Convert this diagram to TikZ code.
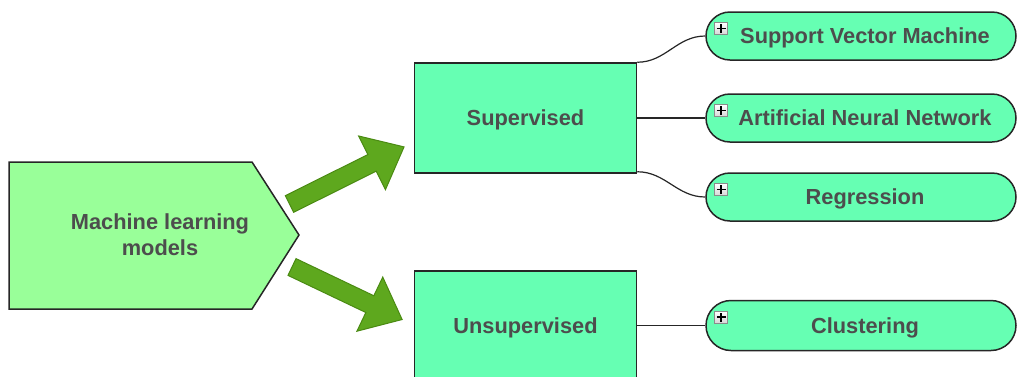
\documentclass[tikz,border=0pt]{standalone}
\usepackage{fontspec}
\setmainfont{Liberation Sans}
\usetikzlibrary{shapes.arrows,shapes.misc}
\definecolor{rootfill}{HTML}{99FF99}
\definecolor{boxfill}{HTML}{66FFB3}
\definecolor{arrowfill}{HTML}{5EA81E}
\definecolor{arrowedge}{HTML}{4A8A12}
\definecolor{labelgray}{HTML}{4D4D4D}
\definecolor{edgegray}{HTML}{262626}
\definecolor{plusfill}{HTML}{D6D6D6}
\definecolor{plusedge}{HTML}{8C8C8C}
\tikzset{
  lbl/.style={font=\fontsize{10.9}{13}\selectfont\bfseries, text=labelgray, align=center},
  % single-line labels: capitals centred on the node
  oneline/.style={lbl, text height=8pt, text depth=0.2pt},
  catbox/.style={oneline, rectangle, draw=edgegray, line width=0.75pt, fill=boxfill,
    minimum width=111pt, minimum height=55pt, inner sep=0pt},
  leaf/.style={oneline, rounded rectangle, draw=edgegray, line width=0.75pt, fill=boxfill,
    minimum width=155pt, minimum height=24pt, inner sep=0pt,
    execute at begin node=\hspace*{4pt}},
  bigarrow/.style={single arrow, draw=arrowedge, fill=arrowfill, line width=0.5pt,
    inner xsep=0pt, inner ysep=4.4pt, single arrow head extend=10.35pt,
    single arrow tip angle=80, anchor=tail, outer sep=0pt},
  plusbox/.style={rectangle, draw=plusedge, line width=0.4pt,
    top color=white, bottom color=plusfill, minimum width=6.5pt, minimum height=6pt,
    inner sep=0pt, anchor=north west,
    path picture={\draw[black, line width=0.7pt]
      ([xshift=-2.2pt]path picture bounding box.center) -- ([xshift=2.2pt]path picture bounding box.center)
      ([yshift=-2.2pt]path picture bounding box.center) -- ([yshift=2.2pt]path picture bounding box.center);}},
  link/.style={draw=edgegray, line width=0.6pt}
}
\begin{document}
\begin{tikzpicture}[x=0.5pt,y=-0.5pt]
\useasboundingbox (0,0) rectangle (1018,376);
\clip (0,0) rectangle (1018,376);

% root pentagon
\fill[rootfill] (9,162) -- (252,162) -- (299,235) -- (252,309) -- (9,309) -- cycle;
\draw[edgegray, line width=0.75pt, line join=miter] (9,162) -- (252,162) -- (299,235) -- (252,309) -- (9,309) -- cycle;
\node[lbl] (root) at (160,235) {Machine learning\\models};

% categories
\node[catbox] (sup) at (525.5,118) {Supervised};
\node[catbox] (unsup) at (525.5,326) {Unsupervised};

% thick arrows from the root to the categories
\node[bigarrow, minimum height=64pt, rotate=26.5] (arrowsup) at (289.5,204) {};
\node[bigarrow, minimum height=61pt, rotate=-25.5] (arrowunsup) at (292,267) {};

% leaves
\node[leaf] (svm) at (861,36) {Support Vector Machine};
\node[leaf] (ann) at (861,118) {Artificial Neural Network};
\node[leaf] (reg) at (861,197) {Regression};
\node[leaf, minimum height=25pt] (clu) at (861,325.5) {Clustering};

% expand buttons in the top left of each leaf
\foreach \n in {svm,ann,reg,clu}
  \node[plusbox] (plus-\n) at ([xshift=4.5pt,yshift=-5.5pt]\n.west |- \n.north) {};

% links
\draw[link] (sup.north east) to[out=0,in=180] (svm.west);
\draw[link] (sup.east) -- (ann.west);
\draw[link] ([yshift=1pt]sup.south east) to[out=0,in=180] (reg.west);
\draw[link] (unsup.east |- clu.west) -- (clu.west);
\end{tikzpicture}
\end{document}
